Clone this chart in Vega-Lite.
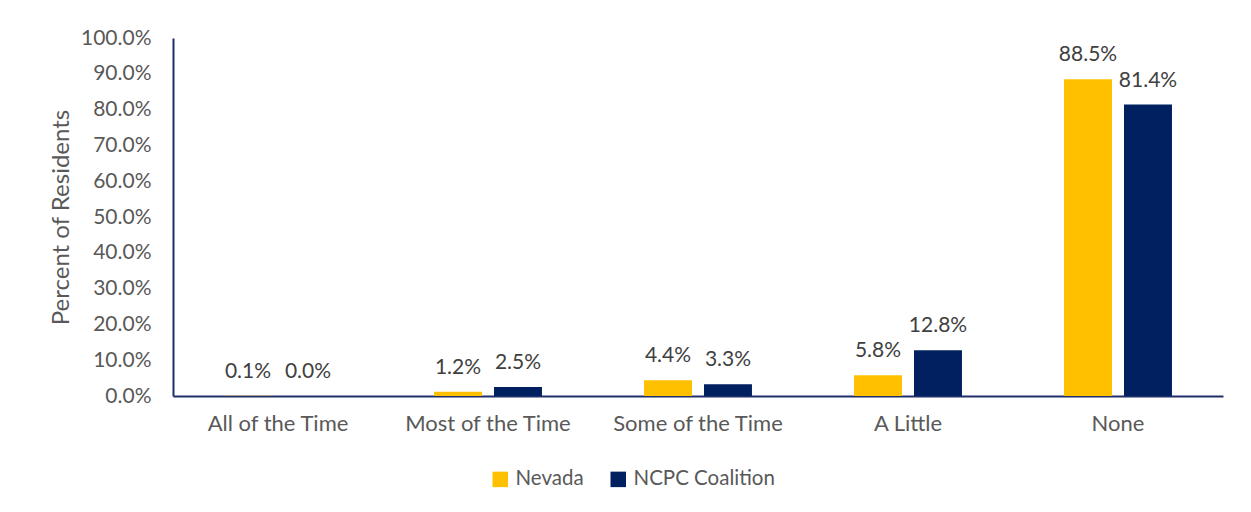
{
  "$schema": "https://vega.github.io/schema/vega-lite/v6.json",
  "autosize": {"type": "none"},
  "width": 1050,
  "height": 358,
  "padding": {"left": 173, "top": 38, "right": 28, "bottom": 116},
  "background": "white",
  "config": {
    "font": "Lato",
    "view": {"stroke": null},
    "axis": {"labelFont": "Lato", "titleFont": "Lato", "labelColor": "#595959", "titleColor": "#595959", "labelFontSize": 21, "titleFontSize": 24, "titleFontWeight": "normal", "domainColor": "#1F2F6B", "domainWidth": 2, "ticks": false, "grid": false, "labelOverlap": false},
    "legend": {"labelFont": "Lato", "labelFontSize": 20.5, "labelColor": "#595959"}
  },
  "data": {
    "values": [
      {"category": "All of the Time", "group": "Nevada", "value": 0.001},
      {"category": "All of the Time", "group": "NCPC Coalition", "value": 0.0},
      {"category": "Most of the Time", "group": "Nevada", "value": 0.012},
      {"category": "Most of the Time", "group": "NCPC Coalition", "value": 0.025},
      {"category": "Some of the Time", "group": "Nevada", "value": 0.044},
      {"category": "Some of the Time", "group": "NCPC Coalition", "value": 0.033},
      {"category": "A Little", "group": "Nevada", "value": 0.058},
      {"category": "A Little", "group": "NCPC Coalition", "value": 0.128},
      {"category": "None", "group": "Nevada", "value": 0.885},
      {"category": "None", "group": "NCPC Coalition", "value": 0.814}
    ]
  },
  "encoding": {
    "x": {"field": "category", "type": "nominal", "sort": null,
          "scale": {"paddingInner": 0.486, "paddingOuter": 0.243},
          "axis": {"title": null, "labelAngle": 0, "labelPadding": 17, "labelFontSize": 22}},
    "xOffset": {"field": "group", "type": "nominal", "sort": ["Nevada", "NCPC Coalition"], "scale": {"paddingInner": 0.2}},
    "y": {"field": "value", "type": "quantitative",
          "scale": {"domain": [0, 1], "nice": false},
          "axis": {"title": "Percent of Residents", "format": ".1%", "values": [0,0.1,0.2,0.3,0.4,0.5,0.6,0.7,0.8,0.9,1.0], "labelPadding": 22, "titlePadding": 7}}
  },
  "layer": [
    {
      "mark": {"type": "bar"},
      "encoding": {
        "color": {"field": "group", "type": "nominal", "sort": ["Nevada", "NCPC Coalition"],
                  "scale": {"domain": ["Nevada", "NCPC Coalition"], "range": ["#FFC000", "#002060"]},
                  "legend": {"title": null, "orient": "none", "direction": "horizontal", "legendX": 317, "legendY": 431, "symbolType": "square", "symbolSize": 240, "symbolOpacity": 1, "symbolStrokeWidth": 0, "columnPadding": 24, "labelOffset": 5}}
      }
    },
    {
      "mark": {"type": "text", "baseline": "alphabetic", "dy": -18, "fontSize": 21, "color": "#404040", "font": "Lato"},
      "encoding": {
        "text": {"field": "value", "type": "quantitative", "format": ".1%"}
      }
    }
  ]
}
